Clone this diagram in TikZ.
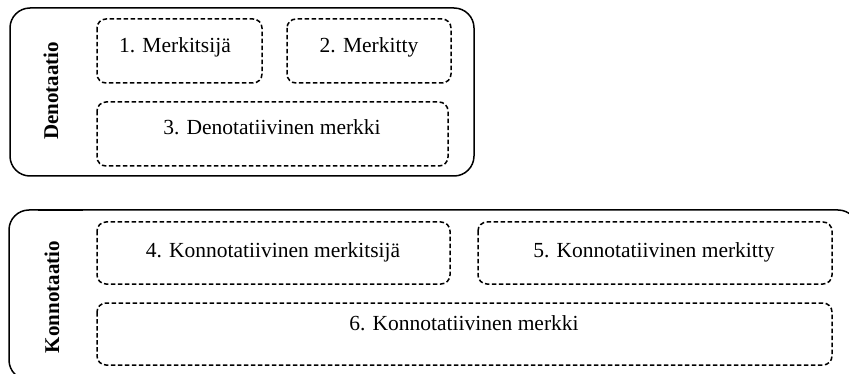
\documentclass[tikz,border=0pt]{standalone}
\usepackage{fontspec}
\setmainfont{Liberation Serif}
\begin{document}
\begin{tikzpicture}[x=1pt,y=-1pt,
  outerbox/.style={draw=black,line width=1.5pt,rounded corners=20pt},
  partbox/.style={draw=black,line width=1.5pt,dash pattern=on 4.5pt off 2.5pt,rounded corners=9pt},
  boxtext/.style={font=\fontsize{21.5}{25}\selectfont,anchor=base,inner sep=0pt},
  sidelabel/.style={font=\fontsize{21}{25}\selectfont\bfseries,rotate=90,inner sep=0pt}]
\useasboundingbox (0,0) rectangle (849,374);
\clip (0,0) rectangle (849,374);

% Denotation group
\draw[outerbox] (10,8) rectangle (474,176);
\node[sidelabel] (den) at (51,91) {Denotaatio};
\draw[partbox] (97,19) rectangle (262,83);
\draw[partbox] (287,19) rectangle (451,83);
\draw[partbox] (97,102) rectangle (448,166);
\node[boxtext] (m1) at (175,53) {1. Merkitsijä};
\node[boxtext] (m2) at (369,53) {2. Merkitty};
\node[boxtext] (m3) at (272,135) {3. Denotatiivinen merkki};

% Connotation group
\draw[outerbox] (9,210) rectangle (858,380);
\draw[line width=2.4pt] (38,210) -- (83,210);
\node[sidelabel] (kon) at (52,297) {Konnotaatio};
\draw[partbox] (97,222) rectangle (450,284);
\draw[partbox] (478,222) rectangle (832,284);
\draw[partbox] (97,303) rectangle (832,365);
\node[boxtext] (m4) at (273,258) {4. Konnotatiivinen merkitsijä};
\node[boxtext] (m5) at (654,258) {5. Konnotatiivinen merkitty};
\node[boxtext] (m6) at (464,330) {6. Konnotatiivinen merkki};
\end{tikzpicture}
\end{document}
